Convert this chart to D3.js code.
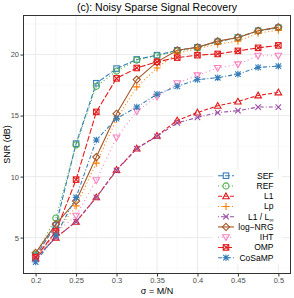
<!DOCTYPE html>
<html>
<head>
<meta charset="utf-8">
<script src="https://cdn.jsdelivr.net/npm/d3@7"></script>
<style>
  body { margin: 0; background: #fff; }
  text { font-family: "Liberation Sans", Arial, sans-serif; }
</style>
</head>
<body>
<div id="chart"></div>
<script>
// Data

const sigma = [0.2, 0.225, 0.25, 0.275, 0.3, 0.325, 0.35, 0.375, 0.4, 0.425, 0.45, 0.475, 0.5];

const sef = [3.5, 6.0, 12.7, 17.65, 18.85, 19.6, 19.95, 20.35, 20.6, 21.05, 21.4, 21.95, 22.2];
const ref = [3.6, 6.6, 12.6, 17.4, 18.65, 19.55, 19.9, 20.3, 20.55, 21.05, 21.4, 21.95, 22.2];
const l1 = [3.3, 5.0, 6.3, 8.3, 10.55, 12.3, 13.35, 14.6, 15.25, 15.8, 16.15, 16.65, 16.9];
const lp = [3.3, 5.4, 7.6, 11.1, 14.7, 17.35, 18.9, 20.1, 20.5, 20.85, 21.1, 21.75, 22.0];
const l1linf = [3.3, 5.0, 6.3, 8.3, 10.5, 12.3, 13.3, 14.4, 14.85, 15.25, 15.4, 15.7, 15.7];
const logNrg = [3.75, 6.1, 8.0, 11.6, 15.15, 17.95, 19.4, 20.35, 20.6, 21.1, 21.4, 21.95, 22.25];
const iht = [3.3, 5.4, 6.8, 9.7, 13.2, 15.35, 16.55, 17.65, 18.3, 18.9, 19.2, 19.9, 19.9];
const omp = [3.4, 5.5, 9.75, 15.3, 18.05, 18.9, 19.4, 19.75, 19.95, 20.05, 20.3, 20.55, 20.75];
const cosamp = [3.0, 5.2, 8.3, 13.0, 14.75, 15.7, 16.75, 17.4, 17.95, 18.1, 18.4, 18.95, 19.05];

const xTicks = [0.2, 0.25, 0.3, 0.35, 0.4, 0.45, 0.5];
const yTicks = [5, 10, 15, 20];

const series = [
  { name: "SEF", values: sef, color: "#377EB8", dash: "5,2", shape: "square" },
  { name: "REF", values: ref, color: "#4DAF4A", dash: "1,2.5", shape: "circle" },
  { name: "L1", values: l1, color: "#E41A1C", dash: "4,2", shape: "triangle" },
  { name: "Lp", values: lp, color: "#FF7F00", dash: "1,2.5", shape: "plus" },
  { name: "L1 / L∞", values: l1linf, color: "#984EA3", dash: "1,2,4,2", shape: "cross" },
  { name: "log\u2212NRG", values: logNrg, color: "#A65628", dash: null, shape: "diamond" },
  { name: "IHT", values: iht, color: "#F781BF", dash: "1,3", shape: "triangleDown" },
  { name: "OMP", values: omp, color: "#E41A1C", dash: "6,2", shape: "squareX" },
  { name: "CoSaMP", values: cosamp, color: "#377EB8", dash: "4,2,1,2", shape: "star" },
];

// Layout

const width = 294;
const height = 298;
const margin = { top: 15.5, right: 3.5, bottom: 24.5, left: 23.5 };
const x0 = margin.left, x1 = width - margin.right;
const y0 = height - margin.bottom, y1 = margin.top;

const svg = d3.select("#chart").append("svg")
  .attr("width", width)
  .attr("height", height);

const xScale = d3.scaleLinear().domain([0.185, 0.515]).range([x0, x1]);
const yScale = d3.scaleLinear().domain([2.06, 23.2]).range([y0, y1]);

// Grid

const grid = svg.append("g");
const xMinor = [0.225, 0.275, 0.325, 0.375, 0.425, 0.475];
const yMinor = [2.5, 7.5, 12.5, 17.5, 22.5];

grid.selectAll(".xminor").data(xMinor).enter().append("line")
  .attr("x1", (d) => xScale(d)).attr("x2", (d) => xScale(d))
  .attr("y1", y0).attr("y2", y1)
  .style("stroke", "#f2f2f2").style("stroke-width", 0.5);
grid.selectAll(".yminor").data(yMinor).enter().append("line")
  .attr("x1", x0).attr("x2", x1)
  .attr("y1", (d) => yScale(d)).attr("y2", (d) => yScale(d))
  .style("stroke", "#f2f2f2").style("stroke-width", 0.5);
grid.selectAll(".xmajor").data(xTicks).enter().append("line")
  .attr("x1", (d) => xScale(d)).attr("x2", (d) => xScale(d))
  .attr("y1", y0).attr("y2", y1)
  .style("stroke", "#ebebeb").style("stroke-width", 1);
grid.selectAll(".ymajor").data(yTicks).enter().append("line")
  .attr("x1", x0).attr("x2", x1)
  .attr("y1", (d) => yScale(d)).attr("y2", (d) => yScale(d))
  .style("stroke", "#ebebeb").style("stroke-width", 1);

// Markers

function marker(g, shape, color, s) {
  const r = s / 2;
  const sw = 1.1;
  if (shape === "square") {
    g.append("rect").attr("x", -r).attr("y", -r).attr("width", s).attr("height", s)
      .style("fill", "none").style("stroke", color).style("stroke-width", sw);
  } else if (shape === "circle") {
    g.append("circle").attr("r", r + 0.3)
      .style("fill", "none").style("stroke", color).style("stroke-width", sw);
  } else if (shape === "triangle") {
    const h = r * 1.2;
    g.append("path").attr("d", `M0,${-h}L${h},${h * 0.75}L${-h},${h * 0.75}Z`)
      .style("fill", "none").style("stroke", color).style("stroke-width", sw);
  } else if (shape === "triangleDown") {
    const h = r * 1.2;
    g.append("path").attr("d", `M0,${h}L${h},${-h * 0.75}L${-h},${-h * 0.75}Z`)
      .style("fill", "none").style("stroke", color).style("stroke-width", sw);
  } else if (shape === "plus") {
    const h = r * 1.3;
    g.append("path").attr("d", `M${-h},0H${h}M0,${-h}V${h}`)
      .style("stroke", color).style("stroke-width", sw);
  } else if (shape === "cross") {
    g.append("path").attr("d", `M${-r},${-r}L${r},${r}M${-r},${r}L${r},${-r}`)
      .style("stroke", color).style("stroke-width", sw);
  } else if (shape === "diamond") {
    const h = r * 1.3;
    g.append("path").attr("d", `M0,${-h}L${h},0L0,${h}L${-h},0Z`)
      .style("fill", "none").style("stroke", color).style("stroke-width", sw);
  } else if (shape === "squareX") {
    g.append("rect").attr("x", -r).attr("y", -r).attr("width", s).attr("height", s)
      .style("fill", "none").style("stroke", color).style("stroke-width", sw);
    g.append("path").attr("d", `M${-r},${-r}L${r},${r}M${-r},${r}L${r},${-r}`)
      .style("stroke", color).style("stroke-width", sw);
  } else if (shape === "star") {
    const h = r * 1.2;
    g.append("path")
      .attr("d", `M${-h},0H${h}M0,${-h}V${h}M${-r},${-r}L${r},${r}M${-r},${r}L${r},${-r}`)
      .style("stroke", color).style("stroke-width", sw);
  }
}

// Lines and points

const line = d3.line()
  .x((d, i) => xScale(sigma[i]))
  .y((d) => yScale(d));

const plot = svg.append("g");

series.forEach((s) => {
  plot.append("path")
    .datum(s.values)
    .attr("d", line)
    .style("fill", "none")
    .style("stroke", s.color)
    .style("stroke-width", 1.1)
    .style("stroke-dasharray", s.dash);
});

series.forEach((s) => {
  plot.selectAll(null)
    .data(s.values)
    .enter()
    .append("g")
    .attr("transform", (d, i) => `translate(${xScale(sigma[i])},${yScale(d)})`)
    .each(function () {
      marker(d3.select(this), s.shape, s.color, 5.5);
    });
});

// Panel border

svg.append("rect")
  .attr("x", x0).attr("y", y1)
  .attr("width", x1 - x0).attr("height", y0 - y1)
  .style("fill", "none").style("stroke", "#333333").style("stroke-width", 1);

// Axis

const xAxis = svg.append("g")
  .attr("transform", `translate(0,${y0})`)
  .call(d3.axisBottom(xScale).tickValues(xTicks).tickSize(3).tickSizeOuter(0).tickFormat(d3.format("")));
xAxis.select(".domain").remove();
xAxis.selectAll("line").style("stroke", "#333333");
xAxis.selectAll("text").style("fill", "#4d4d4d").style("font-size", "7.5px")
  .style("font-family", "Liberation Sans, Arial, sans-serif").attr("y", 4);

const yAxis = svg.append("g")
  .attr("transform", `translate(${x0},0)`)
  .call(d3.axisLeft(yScale).tickValues(yTicks).tickSize(3).tickSizeOuter(0));
yAxis.select(".domain").remove();
yAxis.selectAll("line").style("stroke", "#333333");
yAxis.selectAll("text").style("fill", "#4d4d4d").style("font-size", "7.5px")
  .style("font-family", "Liberation Sans, Arial, sans-serif").attr("x", -4.5);

svg.append("text")
  .attr("x", (x0 + x1) / 2)
  .attr("y", 294)
  .attr("text-anchor", "middle")
  .style("font-size", "9px")
  .text("σ = M/N");

svg.append("text")
  .attr("transform", `translate(10,${(y0 + y1) / 2}) rotate(-90)`)
  .attr("text-anchor", "middle")
  .style("font-size", "9px")
  .text("SNR (dB)");

svg.append("text")
  .attr("x", (x0 + x1) / 2)
  .attr("y", 11)
  .attr("text-anchor", "middle")
  .style("font-size", "10.5px")
  .text("(c): Noisy Sparse Signal Recovery");

// Legend

const legend = svg.append("g");
legend.append("rect")
  .attr("x", 213).attr("y", 169)
  .attr("width", 69).attr("height", 95)
  .style("fill", "#fff");

const rowY = (i) => 175.7 + i * 10.25;

series.forEach((s, i) => {
  const row = legend.append("g").attr("transform", `translate(0,${rowY(i)})`);
  row.append("line")
    .attr("x1", 218).attr("x2", 234)
    .style("stroke", s.color).style("stroke-width", 1.1)
    .style("stroke-dasharray", s.dash);
  const m = row.append("g").attr("transform", "translate(226,0)");
  marker(m, s.shape, s.color, 5.5);
  const t = row.append("text")
    .attr("x", 273.5).attr("y", 3)
    .attr("text-anchor", "end")
    .style("font-size", "8.5px");
  if (s.name === "L1 / L∞") {
    t.append("tspan").text("L1 / L");
    t.append("tspan").attr("dy", 2).style("font-size", "6px").text("∞");
  } else {
    t.text(s.name);
  }
});
</script>
</body>
</html>
